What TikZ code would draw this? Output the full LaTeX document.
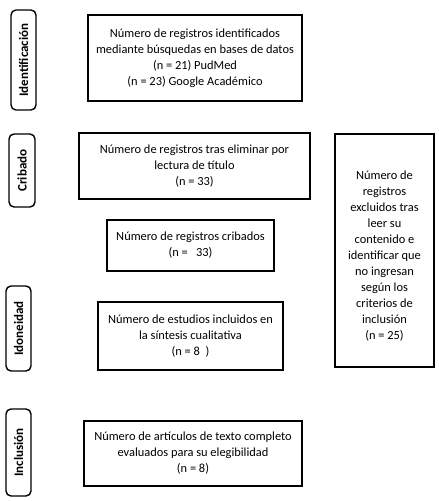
\documentclass[tikz,border=0pt]{standalone}
\usepackage{fontspec}
\setmainfont{Carlito}
\begin{document}
\begin{tikzpicture}[x=1pt,y=-1pt,
  txt/.style={align=center,font=\fontsize{12.4}{16}\selectfont},
  box/.style={draw=black,line width=1.4pt,inner sep=0pt,txt},
  side/.style={draw=black,line width=1.4pt,rounded corners=5pt,inner sep=0pt,rotate=90,font=\fontsize{13}{15}\selectfont\bfseries}]
\useasboundingbox (0,0) rectangle (439,501);
\node[side,minimum width=100,minimum height=25] (sid) at (23.5,60) {Identificación};
\node[side,minimum width=73,minimum height=26] (scr) at (22,170.5) {Cribado};
\node[side,minimum width=85,minimum height=25] (sido) at (18.5,328.5) {Idoneidad};
\node[side,minimum width=87,minimum height=25] (sinc) at (18.5,452.5) {Inclusión};
\node[box,minimum width=214,minimum height=86] (b1) at (195,58) {Número de registros identificados\\mediante búsquedas en bases de datos\\(n = 21) PudMed\\(n = 23) Google Académico};
\node[box,minimum width=231,minimum height=66] (b2) at (194.5,166) {Número de registros tras eliminar por\\lectura de título\\(n = 33)};
\node[box,minimum width=167,minimum height=51] (b3) at (190.5,245.5) {Número de registros cribados\\(n = \ \ 33)};
\node[box,minimum width=99,minimum height=233,
  label={[txt,yshift=-6pt]center:Número de\\registros\\excluidos tras\\leer su\\contenido e\\identificar que\\no ingresan\\según los\\criterios de\\inclusión\\(n = 25)}] (b6) at (384.5,250.5) {};
\node[box,minimum width=185,minimum height=68] (b4) at (190.5,336) {Número de estudios incluidos en\\la síntesis cualitativa\\(n = 8 \ )};
\node[box,minimum width=218,minimum height=65] (b5) at (193,453.5) {Número de artículos de texto completo\\evaluados para su elegibilidad\\(n = 8)};
\end{tikzpicture}
\end{document}
